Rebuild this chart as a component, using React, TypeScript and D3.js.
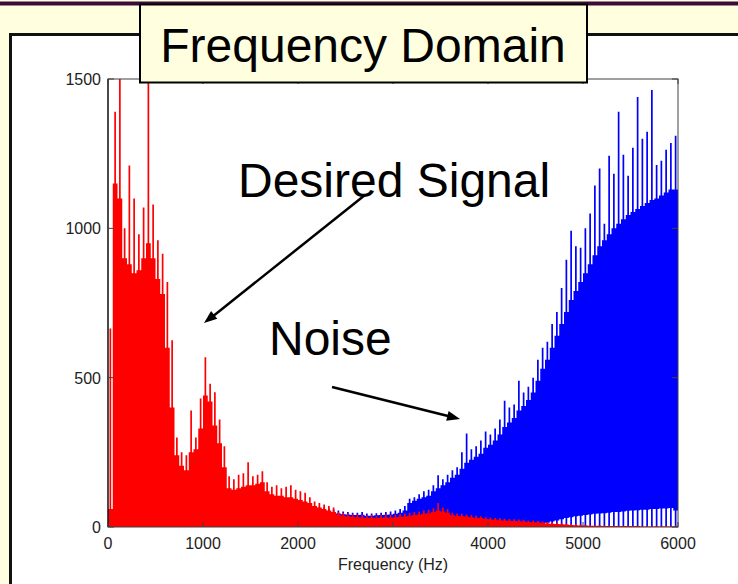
import React from "react";
import * as d3 from "d3";

// ---- data (50 Hz bins, 0..5950 Hz) ----
const binHz = 50;
const redPeak = [
  665, 1390, 1500, 1000, 1210, 1100, 980, 1070, 1500, 1080,
  960, 915, 820, 625, 300, 250, 240, 390, 300, 430,
  568, 480, 451, 360, 270, 170, 160, 175, 180, 217,
  170, 175, 187, 150, 135, 140, 130, 135, 140, 125,
  120, 115, 100, 85, 80, 75, 70, 65, 50, 47,
  45, 42, 42, 40, 38, 40, 38, 40, 42, 40,
  42, 44, 45, 48, 50, 52, 55, 58, 63, 80,
  65, 60, 48, 45, 44, 42, 40, 38, 36, 33,
  32, 30, 30, 28, 27, 26, 25, 24, 22, 22,
  20, 18, 17, 15, 14, 12, 11, 10, 9, 8,
  7, 6, 6, 5, 5, 5, 4, 4, 4, 4,
  4, 4, 4, 4, 4, 4, 4, 4, 4, 4,
];
const redBody = [
  60, 1150, 1100, 900, 880, 850, 860, 900, 950, 900,
  830, 780, 600, 400, 240, 205, 190, 250, 260, 330,
  440, 420, 340, 280, 200, 130, 125, 130, 135, 140,
  140, 145, 150, 120, 110, 105, 105, 100, 100, 95,
  90, 85, 80, 70, 65, 60, 55, 50, 42, 38,
  36, 34, 33, 32, 30, 31, 30, 31, 32, 31,
  33, 34, 35, 38, 40, 42, 44, 46, 50, 55,
  52, 48, 40, 37, 36, 35, 33, 31, 30, 27,
  26, 24, 23, 22, 21, 20, 19, 18, 17, 16,
  15, 14, 12, 11, 10, 9, 8, 7, 6, 5,
  5, 4, 4, 4, 3, 3, 3, 3, 3, 3,
  3, 3, 2, 2, 2, 2, 2, 2, 2, 2,
];
const bluePeak = [
  10, 8, 8, 10, 8, 8, 10, 8, 10, 8,
  10, 12, 10, 12, 10, 12, 14, 12, 14, 15,
  15, 16, 18, 20, 20, 22, 24, 25, 28, 30,
  32, 35, 36, 38, 40, 42, 45, 48, 50, 55,
  60, 62, 65, 68, 66, 65, 62, 58, 55, 52,
  50, 48, 48, 50, 45, 45, 46, 48, 50, 52,
  55, 60, 70, 95, 100, 110, 120, 125, 140, 173,
  160, 175, 190, 200, 250, 313, 260, 270, 290, 320,
  310, 330, 360, 423, 400, 410, 490, 450, 470, 500,
  560, 600, 620, 680, 720, 800, 895, 992, 940, 935,
  1000, 1050, 1143, 1200, 1015, 1243, 1183, 1390, 1246, 1176,
  1270, 1440, 1300, 1323, 1463, 1212, 1226, 1263, 1286, 1310,
];
const blueBody = [
  3, 3, 3, 3, 3, 3, 3, 3, 3, 3,
  4, 4, 4, 4, 5, 5, 6, 6, 7, 8,
  9, 10, 11, 12, 13, 14, 15, 16, 18, 20,
  22, 24, 26, 28, 30, 32, 35, 38, 40, 45,
  50, 52, 55, 56, 55, 54, 52, 48, 45, 43,
  42, 40, 40, 41, 38, 38, 39, 40, 41, 42,
  44, 48, 55, 80, 88, 95, 100, 105, 120, 130,
  140, 150, 165, 175, 195, 215, 225, 235, 245, 265,
  275, 290, 310, 335, 350, 365, 390, 405, 425, 450,
  490, 530, 560, 600, 640, 680, 720, 760, 790, 820,
  850, 880, 910, 940, 960, 980, 1000, 1015, 1030, 1045,
  1055, 1065, 1075, 1085, 1095, 1100, 1110, 1120, 1130, 1130,
];
const blueLow = [
  0, 0, 0, 0, 0, 0, 0, 0, 0, 0,
  0, 0, 0, 0, 0, 0, 0, 0, 0, 0,
  0, 0, 0, 0, 0, 0, 0, 0, 0, 0,
  0, 0, 0, 0, 0, 0, 0, 0, 0, 0,
  0, 0, 0, 0, 0, 0, 0, 0, 0, 0,
  0, 0, 0, 0, 0, 0, 0, 0, 0, 0,
  0, 0, 0, 0, 0, 0, 0, 0, 0, 0,
  0, 0, 0, 0, 0, 0, 0, 0, 0, 0,
  0, 0, 0, 0, 0, 0, 0, 0, 0, 3,
  6, 10, 14, 18, 22, 26, 30, 33, 36, 38,
  40, 42, 44, 45, 46, 48, 50, 50, 52, 54,
  55, 56, 58, 58, 60, 60, 62, 62, 64, 55,
];
const xTicks = [0, 1000, 2000, 3000, 4000, 5000, 6000];
const yTicks = [0, 500, 1000, 1500];
const titleText = "Frequency Domain";
const xLabel = "Frequency (Hz)";
const signalLabel = "Desired Signal";
const noiseLabel = "Noise";

const FONT = "'Liberation Sans', Arial, Helvetica, sans-serif";

const PL = 108, PR = 678, PT = 79, PB = 527;

function arrowHead(x1: number, y1: number, x2: number, y2: number, len = 13, half = 5) {
  const a = Math.atan2(y2 - y1, x2 - x1);
  const bx = x2 - len * Math.cos(a), by = y2 - len * Math.sin(a);
  const px = -Math.sin(a) * half, py = Math.cos(a) * half;
  return `M${x2},${y2}L${bx + px},${by + py}L${bx - px},${by - py}Z`;
}

export default function App() {
  const x = d3.scaleLinear().domain([0, 6000]).range([PL, PR]);
  const y = d3.scaleLinear().domain([0, 1500]).range([PB, PT]);
  const idx = d3.range(redPeak.length + 1);
  const at = (arr: number[], i: number) => arr[Math.min(i, arr.length - 1)];

  const blueArea = d3.area<number>()
    .curve(d3.curveStepAfter)
    .x((i) => x(i * binHz))
    .y0((i) => y(at(blueLow, i)))
    .y1((i) => y(at(blueBody, i)))(idx) || "";
  const redArea = d3.area<number>()
    .curve(d3.curveStepAfter)
    .x((i) => x(i * binHz))
    .y0(() => y(0))
    .y1((i) => y(at(redBody, i)))(idx) || "";

  const spikes = (peak: number[]) =>
    peak.map((v, i) => `M${x(i * binHz + binHz / 2)},${y(v)}V${y(0)}`).join("");

  return (
    <div style={{ position: "fixed", left: 0, top: 0 }}>
      <svg width={738} height={584} style={{ display: "block" }} fontFamily={FONT}>
        <rect x={0} y={0} width={738} height={584} fill="#FFFFE0" />
        <rect x={0} y={1.5} width={738} height={4} fill="#3A0A38" />
        {/* white panel */}
        <rect x={10.5} y={34.5} width={760} height={600} fill="#FFFFFF" stroke="#111" strokeWidth={3} />
        <defs>
          <clipPath id="plotClip">
            <rect x={PL} y={PT} width={PR - PL} height={PB - PT} />
          </clipPath>
        </defs>
        <g clipPath="url(#plotClip)">
          <path d={blueArea} fill="#0000FF" />
          <path d={spikes(bluePeak)} stroke="#0000FF" strokeWidth={1.7} fill="none" />
          <path d={redArea} fill="#FF0000" />
          <path d={spikes(redPeak)} stroke="#FF0000" strokeWidth={1.7} fill="none" />
        </g>
        {/* axes box */}
        <rect x={PL} y={PT} width={PR - PL} height={PB - PT} fill="none" stroke="#404040" strokeWidth={1} />
        <line x1={PL} x2={PL} y1={PT} y2={PB} stroke="#111" strokeWidth={1.2} />
        {xTicks.map((t) => (
          <g key={"x" + t}>
            <line x1={x(t)} x2={x(t)} y1={PB} y2={PB - 5} stroke="#404040" />
            <line x1={x(t)} x2={x(t)} y1={PT} y2={PT + 5} stroke="#404040" />
            <text x={x(t)} y={549} fontSize={16} textAnchor="middle" fill="#222">{t}</text>
          </g>
        ))}
        {yTicks.map((t) => (
          <g key={"y" + t}>
            <line x1={PL} x2={PL + 6} y1={y(t)} y2={y(t)} stroke="#404040" />
            <line x1={PR} x2={PR - 6} y1={y(t)} y2={y(t)} stroke="#404040" />
            <text x={101} y={y(t) + 6} fontSize={16} textAnchor="end" fill="#222">{t}</text>
          </g>
        ))}
        <text x={(PL + PR) / 2} y={570} fontSize={16} textAnchor="middle" fill="#222">{xLabel}</text>
        {/* title box */}
        <rect x={140} y={4.5} width={447} height={78} fill="#FFFFE0" stroke="#000" strokeWidth={2} />
        <text x={363} y={62} fontSize={48} textAnchor="middle" fill="#000">{titleText}</text>
        {/* annotations */}
        <text x={238} y={197} fontSize={48} fill="#000">{signalLabel}</text>
        <text x={269} y={355} fontSize={48} fill="#000">{noiseLabel}</text>
        <line x1={365} y1={195} x2={212} y2={317} stroke="#000" strokeWidth={2.5} />
        <path d={arrowHead(365, 195, 204, 323)} fill="#000" />
        <line x1={332} y1={387} x2={450} y2={416.5} stroke="#000" strokeWidth={2.5} />
        <path d={arrowHead(332, 387, 460, 419)} fill="#000" />
      </svg>
    </div>
  );
}
